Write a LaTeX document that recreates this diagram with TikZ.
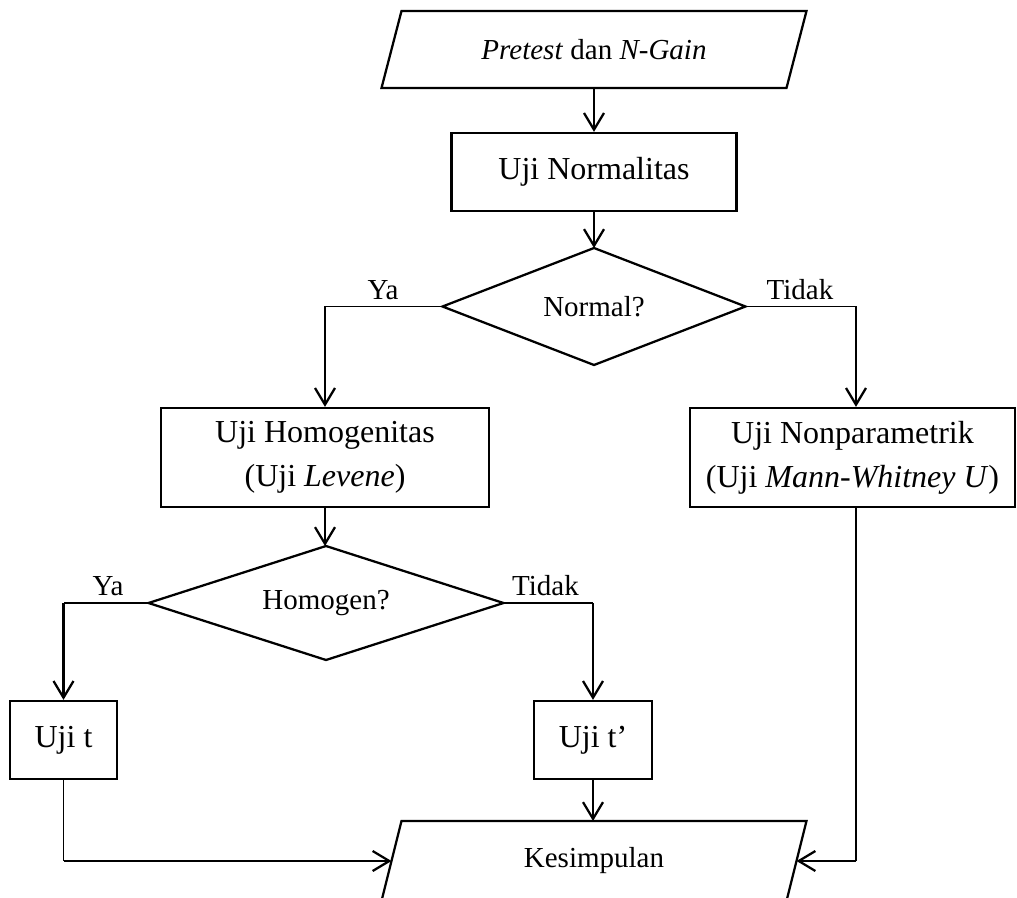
\documentclass[tikz,border=0pt]{standalone}
\usepackage{fontspec}
\setmainfont{Liberation Serif}
\usetikzlibrary{arrows.meta,calc}
\begin{document}
\begin{tikzpicture}[x=0.75pt,y=-0.75pt,
  thk/.style={line width=1.7pt},
  thn/.style={line width=1pt},
  arr/.style={thk,-{Straight Barb[length=12.5pt,width=15pt,line width=1.7pt]}},
  box/.style={draw,thk,rectangle,inner sep=0pt,align=center,font=\fontsize{24}{33}\selectfont},
  io/.style={rectangle,inner sep=0pt,outer sep=0pt,minimum width=303.75pt,font=\fontsize{21.75}{26}\selectfont},
  dec/.style={rectangle,inner sep=0pt,outer sep=0pt,font=\fontsize{21.75}{26}\selectfont},
  lbl/.style={anchor=base,inner sep=0pt,font=\fontsize{21.75}{26}\selectfont}]
\useasboundingbox (0,0) rectangle (1017,898);

% nodes
\node[io,minimum height=57.75pt] (in) at (594,49.5) {\textit{Pretest} dan \textit{N-Gain}};
\node[box,minimum width=213.75pt,minimum height=58.5pt] (nrm) at (594,172) {Uji Normalitas};
\node[dec,minimum width=227.25pt,minimum height=87.75pt] (d1) at (594,306.5) {Normal?};
\node[box,minimum width=246pt,minimum height=74.25pt] (hom) at (325,457.5) {Uji Homogenitas\\(Uji \textit{Levene})};
\node[box,minimum width=243.75pt,minimum height=74.25pt] (np) at (852.5,457.5) {Uji Nonparametrik\\(Uji \textit{Mann-Whitney U})};
\node[dec,minimum width=266.25pt,minimum height=85.5pt] (d2) at (326,603) {Homogen?};
\node[box,minimum width=80.25pt,minimum height=58.5pt] (ut) at (63.5,740) {Uji t};
\node[box,minimum width=88.5pt,minimum height=58.5pt] (ut2) at (593,740) {Uji t’};
\node[io,minimum height=60pt] (ks) at (594,861) {Kesimpulan};

% parallelograms
\draw[thk] ($(in.north west)+(10,0)$) -- ($(in.north east)+(10,0)$) -- ($(in.south east)+(-10,0)$) -- ($(in.south west)+(-10,0)$) -- cycle;
\draw[thk] ($(ks.north west)+(10,0)$) -- ($(ks.north east)+(10,0)$) -- ($(ks.south east)+(-10,0)$) -- ($(ks.south west)+(-10,0)$) -- cycle;

% diamonds
\draw[thk] (d1.north) -- (d1.east) -- (d1.south) -- (d1.west) -- cycle;
\draw[thk] (d2.north) -- (d2.east) -- (d2.south) -- (d2.west) -- cycle;

% labels
\node[lbl] (lya1) at (383,300) {Ya};
\node[lbl] (ltd1) at (800,300) {Tidak};
\node[lbl] (lya2) at (108,595) {Ya};
\node[lbl] (ltd2) at (545.5,595) {Tidak};

% connectors
\draw[arr] (in.south) -- (nrm.north);
\draw[arr] (nrm.south) -- (d1.north);

\coordinate (ya1) at (hom.north |- d1.west);
\draw[thn] (d1.west) -- (ya1);
\draw[arr] (ya1) -- (hom.north);

\coordinate (td1) at (856,306.5);
\draw[thn] (d1.east) -- (td1);
\draw[arr] (td1) -- (td1 |- np.north);

\draw[arr] (hom.south) -- (hom.south |- d2.north);

\coordinate (ya2) at (ut.north |- d2.west);
\draw[thn] (d2.west) -- (ya2);
\draw[arr] (ya2) -- (ut.north);

\coordinate (td2) at (ut2.north |- d2.east);
\draw[thn] (d2.east) -- (td2);
\draw[arr] (td2) -- (ut2.north);

\draw[arr] (ut2.south) -- (ut2.south |- ks.north);

\coordinate (k1) at (ut.south |- ks.west);
\draw[thn] (ut.south) -- (k1);
\draw[arr] (k1) -- (ks.west);

\coordinate (k2) at (td1 |- ks.east);
\draw[thn] (td1 |- np.south) -- (k2);
\draw[arr] (k2) -- (ks.east);
\end{tikzpicture}
\end{document}
